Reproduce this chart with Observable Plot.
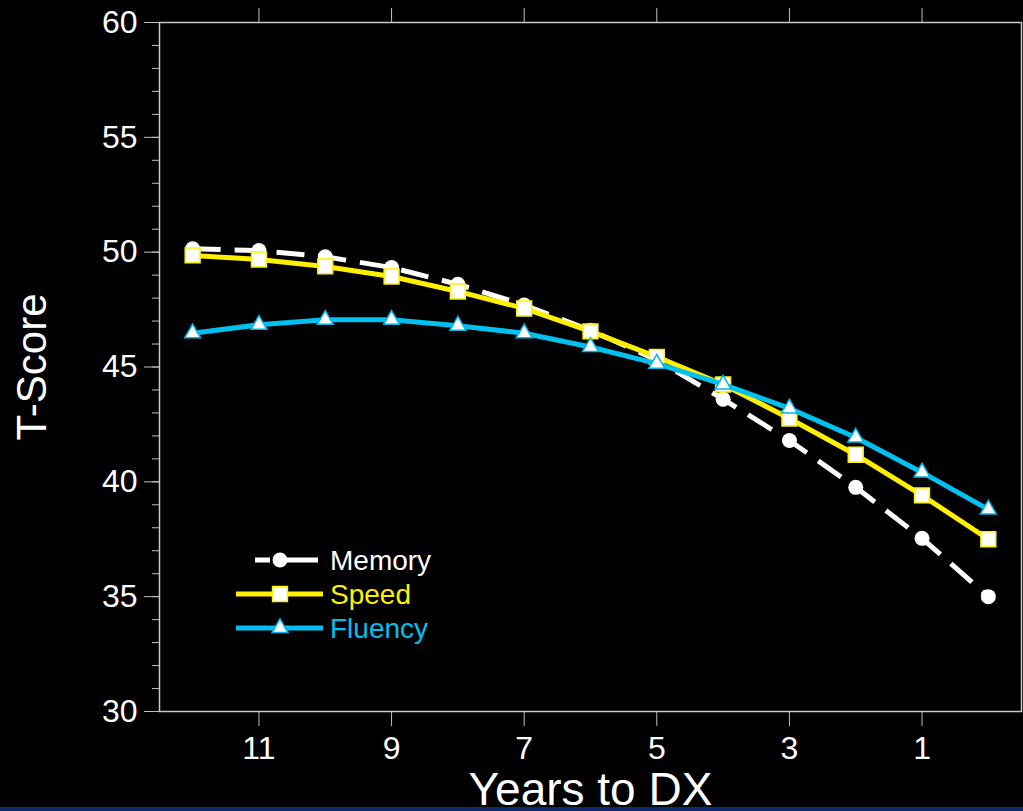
<!DOCTYPE html>
<html>
<head>
<meta charset="utf-8">
<script src="https://cdn.jsdelivr.net/npm/d3@7"></script>
<script src="https://cdn.jsdelivr.net/npm/@observablehq/plot@0.6"></script>
<style>
  html, body { margin: 0; padding: 0; background: #000; overflow: hidden; }
  #wrap { position: relative; width: 1023px; height: 811px; }
  #bar { position: absolute; left: 0; top: 807px; width: 1023px; height: 4px; background: #0b2b6c; }
</style>
</head>
<body>
<div id="wrap"><div id="bar"></div></div>
<script>
// ---- data ----
const years = [12, 11, 10, 9, 8, 7, 6, 5, 4, 3, 2, 1, 0];
const memory = [50.15, 50.07, 49.8, 49.33, 48.6, 47.7, 46.6, 45.3, 43.6, 41.8, 39.76, 37.54, 35.0];
const speed = [49.86, 49.68, 49.38, 48.94, 48.29, 47.55, 46.55, 45.44, 44.24, 42.76, 41.18, 39.41, 37.5];
const fluency = [46.47, 46.84, 47.06, 47.06, 46.8, 46.47, 45.87, 45.15, 44.24, 43.2, 41.93, 40.41, 38.8];
const seriesNames = ["Memory", "Speed", "Fluency"];
const xTicks = [11, 9, 7, 5, 3, 1];
const yMajor = [30, 35, 40, 45, 50, 55, 60];
const yMinor = d3.range(30, 61, 1);

const seriesStyle = {
  Memory: {color: "#ffffff", dash: "28,14", symbol: "circle", r: 7.5, fill: "#ffffff", stroke: "#ffffff"},
  Speed: {color: "#fff000", dash: null, symbol: "square", r: 8.4, fill: "#ffffff", stroke: "#fff000"},
  Fluency: {color: "#00c0f0", dash: null, symbol: "triangle", r: 5.9, fill: "#ffffff", stroke: "#00b4ea"}
};
const values = {Memory: memory, Speed: speed, Fluency: fluency};
const rows = seriesNames.flatMap(s => years.map((yr, i) => ({series: s, year: yr, value: values[s][i]})));

const marks = [];
for (const s of seriesNames) {
  const st = seriesStyle[s];
  const d = rows.filter(r => r.series === s);
  marks.push(Plot.line(d, {x: "year", y: "value", stroke: st.color, strokeWidth: 5,
    strokeDasharray: st.dash, strokeLinecap: "butt", strokeLinejoin: "round"}));
  marks.push(Plot.dot(d, {x: "year", y: "value", symbol: () => st.symbol, r: st.r,
    fill: st.fill, stroke: st.stroke, strokeWidth: st.symbol === "circle" ? 0 : 1.5}));
}

const chart = Plot.plot({
  width: 1023,
  height: 811,
  marginTop: 22,
  marginBottom: 100,
  marginLeft: 159,
  marginRight: 2,
  style: {background: "#000", color: "#fff", fontFamily: "'Liberation Sans', Arial, sans-serif", overflow: "hidden"},
  x: {domain: [12.5, -0.5]},
  y: {domain: [30, 60]},
  symbol: {domain: ["circle", "square", "triangle"], range: ["circle", "square", "triangle"]},
  marks: [
    Plot.axisY({ticks: yMinor, tickSize: 7, tickFormat: () => "", label: null, stroke: "#c0c0c0"}),
    Plot.axisY({ticks: yMajor, tickSize: 15, tickPadding: 7, fontSize: 32, label: null, stroke: "#c0c0c0", fill: "#fff"}),
    Plot.axisX({anchor: "bottom", ticks: xTicks, tickSize: 15, tickPadding: 10, fontSize: 32, label: null, stroke: "#c0c0c0", fill: "#fff"}),
    Plot.axisX({anchor: "top", ticks: xTicks, tickSize: 15, tickFormat: () => "", label: null, stroke: "#c0c0c0"}),
    Plot.frame({stroke: "#c8c8c8", strokeWidth: 1.5}),
    ...marks,
    Plot.text(["T-Score"], {frameAnchor: "left", textAnchor: "middle", lineAnchor: "middle", dx: -127, rotate: -90, fontSize: 42, fill: "#fff"}),
    Plot.text(["Years to DX"], {frameAnchor: "bottom", dy: 93, fontSize: 46, fill: "#fff"})
  ]
});

// ---- legend (drawn into the same svg) ----
const svg = d3.select(chart);
const lg = svg.append("g").attr("font-family", "'Liberation Sans', Arial, sans-serif").attr("text-anchor", "start");
seriesNames.forEach((s, i) => {
  const st = seriesStyle[s];
  const g = lg.append("g").attr("transform", `translate(0,${560 + i * 34})`);
  if (s === "Memory") {
    g.append("line").attr("x1", 255).attr("x2", 270).attr("y1", 0).attr("y2", 0).attr("stroke", st.color).attr("stroke-width", 5);
    g.append("line").attr("x1", 273).attr("x2", 318).attr("y1", 0).attr("y2", 0).attr("stroke", st.color).attr("stroke-width", 5);
  } else {
    g.append("line").attr("x1", 236).attr("x2", 323).attr("y1", 0).attr("y2", 0).attr("stroke", st.color).attr("stroke-width", 5);
  }
  const symType = {circle: d3.symbolCircle, square: d3.symbolSquare, triangle: d3.symbolTriangle}[st.symbol];
  g.append("path").attr("transform", "translate(280,0)")
    .attr("d", d3.symbol(symType, Math.PI * st.r * st.r)())
    .attr("fill", st.fill).attr("stroke", st.stroke).attr("stroke-width", st.symbol === "circle" ? 0 : 1.5);
  g.append("text").attr("x", 330).attr("y", 0).attr("dy", "0.35em").attr("font-size", 28)
    .attr("text-anchor", "start").attr("fill", st.color).text(s);
});

document.getElementById("wrap").prepend(chart);
</script>
</body>
</html>
